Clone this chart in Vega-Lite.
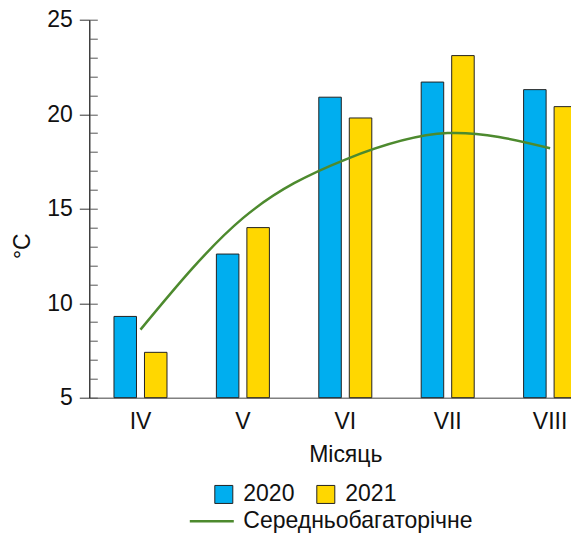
{
  "$schema": "https://vega.github.io/schema/vega-lite/v6.json",
  "width": 482,
  "height": 378,
  "autosize": {"type": "none"},
  "padding": {"left": 89.3, "top": 19.7, "right": 0, "bottom": 136},
  "config": {
    "font": "Liberation Sans",
    "view": {"stroke": null},
    "axis": {"grid": false, "titleFontWeight": "normal", "labelColor": "#111", "titleColor": "#111"},
    "legend": {"labelColor": "#111"}
  },
  "datasets": {
    "monthly": [
      {"month": "IV", "year": "2020", "temp": 9.3},
      {"month": "IV", "year": "2021", "temp": 7.4},
      {"month": "V", "year": "2020", "temp": 12.6},
      {"month": "V", "year": "2021", "temp": 14.0},
      {"month": "VI", "year": "2020", "temp": 20.9},
      {"month": "VI", "year": "2021", "temp": 19.8},
      {"month": "VII", "year": "2020", "temp": 21.7},
      {"month": "VII", "year": "2021", "temp": 23.1},
      {"month": "VIII", "year": "2020", "temp": 21.3},
      {"month": "VIII", "year": "2021", "temp": 20.4}
    ],
    "normals": [
      {"month": "IV", "avg": 8.6},
      {"month": "V", "avg": 14.5},
      {"month": "VI", "avg": 17.6},
      {"month": "VII", "avg": 19.0},
      {"month": "VIII", "avg": 18.2}
    ]
  },
  "layer": [
    {
      "data": {"name": "monthly"},
      "mark": {"type": "bar", "stroke": "#222", "strokeWidth": 1},
      "encoding": {
        "x": {
          "field": "month",
          "type": "nominal",
          "scale": {"domain": ["IV", "V", "VI", "VII", "VIII"], "range": [0, 512], "paddingInner": 0.4824, "paddingOuter": 0.241},
          "axis": {
            "ticks": false,
            "domainColor": "#808080",
            "domainWidth": 1.5,
            "labelFontSize": 23,
            "labelPadding": 13,
            "labelAngle": 0,
            "title": "Місяць",
            "titleFontSize": 23,
            "titleBaseline": "alphabetic",
            "titleAlign": "center",
            "titleX": 256,
            "titleY": 64
          }
        },
        "xOffset": {"field": "year", "type": "nominal", "scale": {"paddingInner": 0.262, "paddingOuter": 0}},
        "y": {
          "field": "temp",
          "type": "quantitative",
          "scale": {"domain": [5, 25], "nice": false, "zero": false},
          "axis": {
            "orient": "left",
            "values": [5, 10, 15, 20, 25],
            "tickSize": 10,
            "tickColor": "#333",
            "domainColor": "#111",
            "domainWidth": 1.2,
            "labelFontSize": 23,
            "labelPadding": 7,
            "title": "°C",
            "titleFontSize": 23,
            "titleAngle": -90,
            "titleAlign": "center",
            "titleBaseline": "alphabetic",
            "titleX": -60,
            "titleY": 226
          }
        },
        "y2": {"datum": 5},
        "fill": {
          "field": "year",
          "type": "nominal",
          "scale": {"domain": ["2020", "2021"], "range": ["#00AEEF", "#FFD700"]},
          "legend": {
            "title": null,
            "orient": "none",
            "direction": "horizontal",
            "legendX": 123,
            "legendY": 463,
            "padding": 0,
            "symbolType": "square",
            "symbolSize": 324,
            "symbolStrokeColor": "#222",
            "symbolStrokeWidth": 1,
            "labelFontSize": 23,
            "labelOffset": 8,
            "columnPadding": 19
          }
        }
      }
    },
    {
      "data": {"name": "normals"},
      "mark": {"type": "line", "interpolate": "natural", "strokeWidth": 2.5},
      "encoding": {
        "x": {"field": "month", "type": "nominal"},
        "y": {
          "field": "avg",
          "type": "quantitative",
          "axis": {
            "orient": "left",
            "values": [5, 6, 7, 8, 9, 10, 11, 12, 13, 14, 15, 16, 17, 18, 19, 20, 21, 22, 23, 24, 25],
            "tickSize": -8,
            "tickColor": "#555",
            "labels": false,
            "domain": false,
            "title": null
          }
        },
        "stroke": {
          "datum": "Середньобагаторічне",
          "scale": {"range": ["#4d8a2e"]},
          "legend": {
            "title": null,
            "orient": "none",
            "legendX": 110,
            "legendY": 489,
            "padding": 0,
            "symbolType": "M-2,0L2,0",
            "symbolSize": 484,
            "symbolStrokeWidth": 2.5,
            "labelFontSize": 23,
            "labelOffset": 19,
            "labelLimit": 400
          }
        }
      }
    }
  ],
  "resolve": {"axis": {"y": "independent"}}
}
